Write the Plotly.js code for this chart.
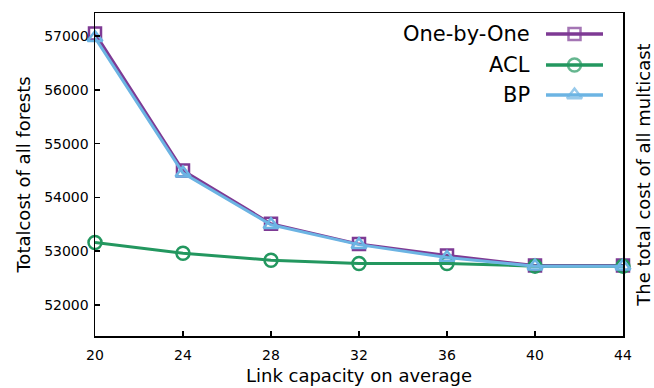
<!DOCTYPE html>
<html>
<head>
<meta charset="utf-8">
<script src="https://cdn.plot.ly/plotly-3.0.1.min.js"></script>
<style>html,body{margin:0;padding:0;background:#fff;}#chart{width:654px;height:388px;}</style>
</head>
<body>
<div id="chart"></div>
<script>
// ---- data ----
const capacity = [20, 24, 28, 32, 36, 40, 44];
const oneByOne = [57050, 54500, 53510, 53130, 52920, 52730, 52730];
const acl      = [53160, 52960, 52830, 52770, 52770, 52720, 52720];
const bp       = [56970, 54450, 53490, 53120, 52880, 52720, 52720];
const seriesNames = ['One-by-One', 'ACL', 'BP'];
const xTicks = [20, 24, 28, 32, 36, 40, 44];
const yTicks = [52000, 53000, 54000, 55000, 56000, 57000];

// ---- styles ----
const colors = ['#7e3a94', '#23975f', '#6cb4e3'];
const symbols = ['square-open', 'circle-open', 'triangle-up-open'];
const sizes = [12, 13, 13];
const FONT = 'DejaVu Sans, sans-serif';

const seriesData = [oneByOne, acl, bp];
const traces = seriesData.map((vals, i) => ({
  x: capacity, y: vals, name: seriesNames[i], type: 'scatter', mode: 'lines+markers',
  line: {color: colors[i], width: 3},
  marker: {symbol: symbols[i], size: sizes[i], color: colors[i], line: {width: 2.5, color: colors[i]}},
  showlegend: false, cliponaxis: false, xaxis: 'x', yaxis: 'y'
}));

// legend samples drawn in a pixel-unit overlay axis (x3/y3)
const legRows = [34, 65, 95];
const legLineX = [546, 574.5, 603];
seriesNames.forEach((n, i) => {
  traces.push({
    x: legLineX, y: [legRows[i], legRows[i], legRows[i]], type: 'scatter', mode: 'lines+markers',
    line: {color: colors[i], width: 3.5},
    marker: {symbol: symbols[i], size: [0, sizes[i], 0], color: colors[i], line: {width: 2.5, color: colors[i]}},
    showlegend: false, hoverinfo: 'skip', xaxis: 'x3', yaxis: 'y3', cliponaxis: false
  });
});

const annotations = seriesNames.map((n, i) => ({
  text: n, xref: 'x3', yref: 'y3', x: 532, y: legRows[i], xanchor: 'right', yanchor: 'middle',
  showarrow: false, font: {family: FONT, size: 21, color: '#000'}
}));

const layout = {
  width: 654, height: 388,
  margin: {l: 95, r: 31, t: 13, b: 52, pad: 0},
  paper_bgcolor: '#fff', plot_bgcolor: '#fff',
  font: {family: FONT, color: '#000', size: 14},
  showlegend: false,
  xaxis: {
    range: [20, 44], tickvals: xTicks, ticktext: xTicks.map(String),
    ticks: 'inside', ticklen: 5, tickwidth: 1.5, tickcolor: '#000',
    showline: true, linecolor: '#000', linewidth: 1.5, mirror: true,
    showgrid: false, zeroline: false, tickfont: {family: FONT, size: 14},
    ticklabelstandoff: 6,
    title: {text: 'Link capacity on average', font: {family: FONT, size: 18}, standoff: 7}
  },
  yaxis: {
    range: [51420, 57430], tickvals: yTicks, ticktext: yTicks.map(String),
    ticks: 'inside', ticklen: 5, tickwidth: 1.5, tickcolor: '#000',
    showline: true, linecolor: '#000', linewidth: 1.5, mirror: true,
    showgrid: false, zeroline: false, tickfont: {family: FONT, size: 14},
    ticklabelstandoff: 2,
    title: {text: 'Totalcost of all forests', font: {family: FONT, size: 18}, standoff: 9}
  },
  yaxis2: {
    overlaying: 'y', side: 'right', range: [51420, 57430], showticklabels: false,
    ticks: '', showgrid: false, zeroline: false, showline: false,
    title: {text: 'The total cost of all multicast', font: {family: FONT, size: 18}, standoff: 14}
  },
  xaxis3: {overlaying: 'x', range: [95, 623], visible: false, fixedrange: true},
  yaxis3: {overlaying: 'y', range: [336, 13], visible: false, fixedrange: true, anchor: 'x3'},
  annotations: annotations
};

// dummy trace to make yaxis2 render its title
traces.push({x: [null], y: [null], xaxis: 'x', yaxis: 'y2', type: 'scatter', showlegend: false, hoverinfo: 'skip'});

Plotly.newPlot('chart', traces, layout, {displayModeBar: false, staticPlot: true});
</script>
</body>
</html>
